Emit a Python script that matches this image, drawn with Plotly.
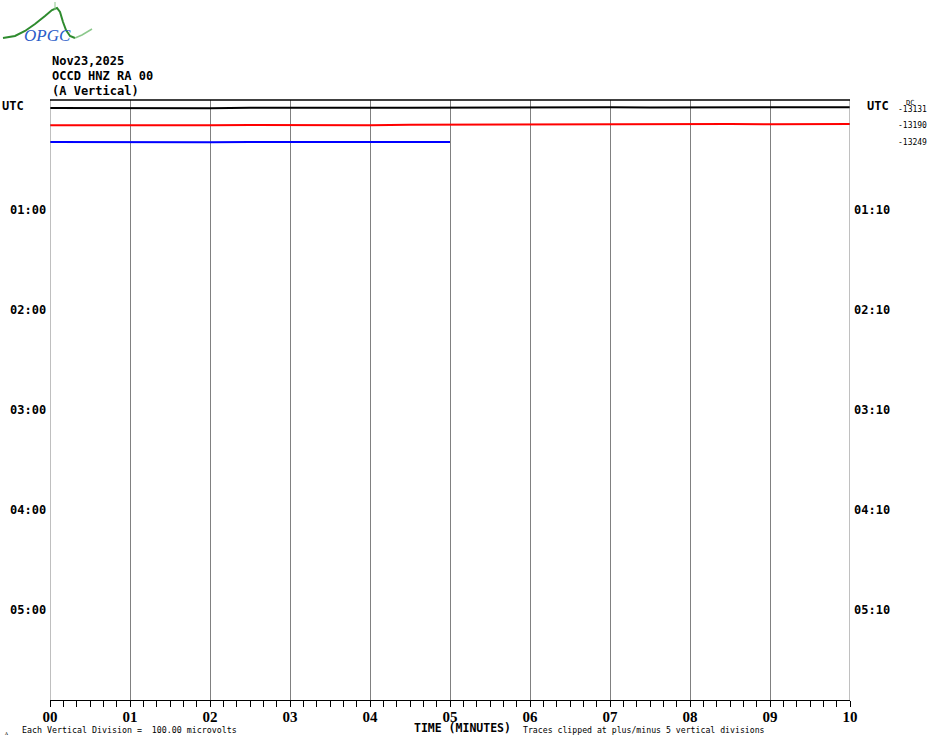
import plotly.graph_objects as go

W, H = 930, 744

# minutes along each 10-minute line
minutes = [0, 0.5, 1, 1.5, 2, 2.5, 3, 3.5, 4, 4.5, 5, 5.5, 6, 6.5, 7, 7.5, 8, 8.5, 9, 9.5, 10]
# trace offsets from each line's baseline, in line spacings
black_off = [0.00, 0.01, -0.02, 0.00, 0.01, -0.01, 0.00, -0.02, -0.01, -0.02, -0.03, -0.02, -0.03, -0.02, -0.04, -0.03, -0.04, -0.03, -0.05, -0.04, -0.05]
red_off = [0.03, 0.04, 0.02, 0.03, 0.04, 0.02, 0.03, 0.02, 0.03, 0.01, 0.00, -0.01, -0.02, -0.01, -0.03, -0.02, -0.03, -0.04, -0.03, -0.04, -0.04]
blue_off = [0.04, 0.05, 0.04, 0.03, 0.05, 0.04, 0.04, 0.02, 0.03, 0.04, 0.04]

line_idx = [0, 1, 2]
colors = ["#000000", "#ff0000", "#0000ff"]
dc_labels = ["-13131", "-13190", "-13249"]

hour_rows = [6, 12, 18, 24, 30]
left_hours = ["01:00", "02:00", "03:00", "04:00", "05:00"]
right_hours = ["01:10", "02:10", "03:10", "04:10", "05:10"]
xtick_vals = list(range(11))
xtick_text = ["00", "01", "02", "03", "04", "05", "06", "07", "08", "09", "10"]

title_lines = ["Nov23,2025", "OCCD HNZ RA 00", "(A Vertical)"]


def px(x):
    return x / W


def py(y):
    return 1 - y / H


# y: line index, line 0 sits at pixel 108, 100/6 px per line
LINE0 = 108
STEP = 100 / 6
TOP, BOT = 100, 700
y_range = [(BOT - LINE0) / STEP, (TOP - LINE0) / STEP]

fig = go.Figure()
offsets = [black_off, red_off, blue_off]
for i, off in enumerate(offsets):
    xs = minutes[:len(off)]
    fig.add_trace(go.Scatter(x=xs, y=[line_idx[i] + v for v in off], mode="lines",
                             line=dict(color=colors[i], width=2), hoverinfo="skip",
                             showlegend=False))

mono = "DejaVu Sans Mono"
ann = []
for i, t in enumerate(title_lines):
    ann.append(dict(x=px(50), y=py(61 + 15 * i), text="<b>" + t + "</b>", xanchor="left",
                    yanchor="middle", font=dict(family=mono, size=12, color="black")))
ann.append(dict(x=px(0), y=py(106), text="<b>UTC</b>", xanchor="left", yanchor="middle",
                font=dict(family=mono, size=12, color="black")))
ann.append(dict(x=px(865), y=py(106), text="<b>UTC</b>", xanchor="left", yanchor="middle",
                font=dict(family=mono, size=12, color="black")))
for r, l, rt in zip(hour_rows, left_hours, right_hours):
    ann.append(dict(x=px(48), y=r + 0.1, yref="y", text="<b>" + l + "</b>", xanchor="right",
                    yanchor="middle", font=dict(family=mono, size=12, color="black")))
    ann.append(dict(x=px(852), y=r + 0.1, yref="y", text="<b>" + rt + "</b>", xanchor="left",
                    yanchor="middle", font=dict(family=mono, size=12, color="black")))
for i, d in enumerate(dc_labels):
    ann.append(dict(x=px(896), y=line_idx[i] + 0.06, yref="y", text=d, xanchor="left",
                    yanchor="middle", font=dict(family=mono, size=8, color="black")))
ann.append(dict(x=px(904), y=py(103), text="DC", xanchor="left", yanchor="middle",
                font=dict(family=mono, size=7, color="black")))
ann.append(dict(x=px(20), y=py(730), text="Each Vertical Division =  100.00 microvolts",
                xanchor="left", yanchor="middle", font=dict(family=mono, size=8.3, color="black")))
ann.append(dict(x=px(462), y=py(728), text="<b>TIME (MINUTES)</b>", xanchor="center",
                yanchor="middle", font=dict(family=mono, size=11.5, color="black")))
ann.append(dict(x=px(521), y=py(730), text="Traces clipped at plus/minus 5 vertical divisions",
                xanchor="left", yanchor="middle", font=dict(family=mono, size=8.2, color="black")))
ann.append(dict(x=px(3), y=py(732), text="ᴧ", xanchor="left", yanchor="middle",
                font=dict(family=mono, size=6, color="black")))
# logo text
ann.append(dict(x=px(47), y=py(36), text="<i>OPGC</i>", xanchor="center", yanchor="middle",
                font=dict(family="Liberation Serif", size=17, color="#2a5cc8")))
for a in ann:
    a.setdefault("xref", "paper")
    a.setdefault("yref", "paper")
    a["showarrow"] = False

# logo mountain curve
logo_pts = [(3, 38), (15, 36), (25, 31), (35, 24), (45, 16), (52, 10), (57, 8), (60, 12),
            (63, 22), (66, 30), (70, 36), (75, 38)]
logo_tail = [(75, 38), (82, 35), (92, 29)]


def path(pts):
    return "M " + " L ".join("%f,%f" % (px(a), py(b)) for a, b in pts)


shapes = [
    dict(type="path", path=path(logo_pts), xref="paper", yref="paper",
         line=dict(color="#2e8b2e", width=2)),
    dict(type="path", path=path(logo_tail), xref="paper", yref="paper",
         line=dict(color="#8cc88c", width=1.5)),
    dict(type="line", x0=px(55), x1=px(55), y0=py(2), y1=py(10), xref="paper", yref="paper",
         line=dict(color="#8cc88c", width=1)),
    # frame
    dict(type="line", x0=0, x1=0, y0=0, y1=1, xref="x", yref="y domain",
         line=dict(color="#808080", width=1)),
    dict(type="line", x0=10, x1=10, y0=0, y1=1, xref="x", yref="y domain",
         line=dict(color="#808080", width=1)),
    dict(type="line", x0=0, x1=10, y0=1, y1=1, xref="x", yref="y domain",
         line=dict(color="black", width=1.5)),
]

fig.update_layout(
    width=W, height=H,
    margin=dict(l=0, r=0, t=0, b=0, autoexpand=False),
    paper_bgcolor="white", plot_bgcolor="white",
    showlegend=False,
    annotations=ann, shapes=shapes,
    xaxis=dict(domain=[px(50), px(850)], range=[0, 10], tickvals=xtick_vals, ticktext=xtick_text,
               ticks="outside", ticklen=6, tickcolor="black", tickwidth=1,
               minor=dict(dtick=1 / 6, ticks="outside", ticklen=6, tickcolor="black", showgrid=False),
               showline=True, linecolor="black", linewidth=1, mirror=False,
               showgrid=True, gridcolor="#808080", gridwidth=1, zeroline=False,
               tickfont=dict(family="Liberation Serif", size=15, color="black", weight="bold"),
               ticklabelstandoff=-3, automargin=False),
    yaxis=dict(domain=[py(BOT), py(TOP)], range=y_range, visible=False, showgrid=False,
               zeroline=False, automargin=False),
)

fig.write_html("out.html", config={"displayModeBar": False},
               post_script="document.body.style.margin='0px';document.body.style.overflow='hidden';")
